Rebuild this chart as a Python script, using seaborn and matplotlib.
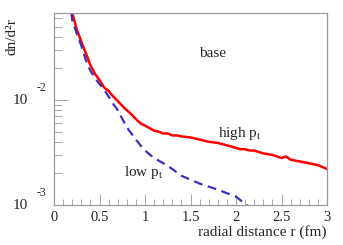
import matplotlib
matplotlib.use("Agg")
import matplotlib.pyplot as plt
import matplotlib.transforms as mtransforms
from matplotlib.ticker import LogLocator, MultipleLocator, NullFormatter
import seaborn as sns
import pandas as pd

# high p_t curve (solid red)
r_high = [0.20, 0.25, 0.30, 0.35, 0.40, 0.45, 0.50, 0.55, 0.60, 0.65, 0.70,
          0.75, 0.80, 0.85, 0.90, 0.95, 1.00, 1.05, 1.10, 1.15, 1.20, 1.25,
          1.30, 1.35, 1.40, 1.50, 1.60, 1.70, 1.80, 1.90, 2.00, 2.05, 2.10,
          2.15, 2.20, 2.30, 2.40, 2.45, 2.50, 2.55, 2.60, 2.70, 2.80, 2.90,
          2.95, 3.00]
dn_high = [0.068, 0.047, 0.036, 0.028, 0.0215, 0.0178, 0.0155, 0.0132, 0.0122,
           0.0108, 0.0098, 0.0088, 0.0080, 0.0073, 0.0066, 0.0060, 0.0057,
           0.0054, 0.0051, 0.0050, 0.0048, 0.0048, 0.0046, 0.0046, 0.0045,
           0.0044, 0.0042, 0.0040, 0.0039, 0.0037, 0.0035, 0.0034, 0.0034,
           0.0033, 0.0033, 0.0031, 0.0030, 0.0029, 0.0028, 0.0029, 0.0027,
           0.0026, 0.0025, 0.0024, 0.0023, 0.0022]

# low p_t curve (dashed blue)
r_low = [0.19, 0.20, 0.25, 0.30, 0.35, 0.40, 0.45, 0.50, 0.55, 0.60, 0.65,
         0.70, 0.80, 0.85, 0.90, 0.95, 1.00, 1.10, 1.20, 1.30, 1.40, 1.60,
         1.80, 2.00, 2.15]
dn_low = [0.068, 0.058, 0.043, 0.033, 0.024, 0.019, 0.0162, 0.0142, 0.0126,
          0.0108, 0.0092, 0.0080, 0.0055, 0.0048, 0.0042, 0.0037, 0.0033,
          0.0028, 0.0025, 0.0022, 0.0019, 0.0016, 0.0014, 0.0012, 0.00095]

x_ticks = [0, 0.5, 1, 1.5, 2, 2.5, 3]
x_ticklabels = ["0", "0.5", "1", "1.5", "2", "2.5", "3"]
y_decades = [1e-3, 1e-2]
y_exponents = ["-3", "-2"]

sns.set_style("ticks")
plt.rcParams["font.family"] = ["Liberation Serif", "DejaVu Serif"]
plt.rcParams["mathtext.fontset"] = "custom"
plt.rcParams["mathtext.rm"] = "Liberation Serif"
plt.rcParams["mathtext.it"] = "Liberation Serif:italic"

df_high = pd.DataFrame({"r": r_high, "dn": dn_high})
df_low = pd.DataFrame({"r": r_low, "dn": dn_low})

fig = plt.figure(figsize=(3.43, 2.45), dpi=100)
ax = fig.add_axes([54 / 343, 1 - 205 / 245, 273 / 343, 192 / 245])

sns.lineplot(data=df_high, x="r", y="dn", ax=ax, color="#ff0000", lw=1.8,
             sort=False, estimator=None)
sns.lineplot(data=df_low, x="r", y="dn", ax=ax, color="#3a2fc0", lw=1.6,
             sort=False, estimator=None, linestyle=(0, (4, 2.5)))

ax.set_yscale("log")
ax.set_xlim(0, 3)
ax.set_ylim(1e-3, 0.0674)

grey = "#9a9a9a"
for s in ax.spines.values():
    s.set_color(grey)
    s.set_linewidth(0.9)

ax.set_xticks(x_ticks)
ax.set_xticklabels(x_ticklabels, fontsize=10.5)
ax.xaxis.set_minor_locator(MultipleLocator(0.1))
ax.tick_params(axis="x", which="major", direction="in", length=8, width=0.6,
               color=grey, pad=4, top=False)
ax.tick_params(axis="x", which="minor", direction="in", length=4, width=0.6,
               color=grey, top=False)

ax.set_yticks(y_decades)
ax.set_yticklabels(["", ""])
ax.yaxis.set_minor_locator(LogLocator(base=10, subs=range(2, 10)))
ax.yaxis.set_minor_formatter(NullFormatter())
ax.tick_params(axis="y", which="major", direction="in", length=10, width=0.6,
               color=grey, right=False)
ax.tick_params(axis="y", which="minor", direction="in", length=6, width=0.6,
               color=grey, right=False)

# ROOT-style decade labels
trans = mtransforms.blended_transform_factory(ax.transAxes, ax.transData)
for val, ex in zip(y_decades, y_exponents):
    ax.text(-0.125, val, "10", transform=trans, fontsize=11, ha="center",
            va="center")
    ax.text(-0.045, val * 1.3, ex, transform=trans, fontsize=8.5,
            ha="center", va="center")

ax.set_xlabel("")
ax.set_ylabel("")
fig.text(327 / 343, 1 - 232 / 245, "radial distance r (fm)", fontsize=11,
         ha="right", va="center")
fig.text(12 / 343, 1 - 18 / 245, "dn/d²r", fontsize=11, rotation=90,
         ha="center", va="top")

ax.text(0.58, 0.79, "base", transform=ax.transAxes, fontsize=11,
        ha="center", va="center")
ax.text(0.60, 0.375, r"high p$_{\mathrm{t}}$", transform=ax.transAxes,
        fontsize=11, ha="left", va="center")
ax.text(0.255, 0.17, r"low p$_{\mathrm{t}}$", transform=ax.transAxes,
        fontsize=11, ha="left", va="center")

fig.savefig("out.png", dpi=100)
